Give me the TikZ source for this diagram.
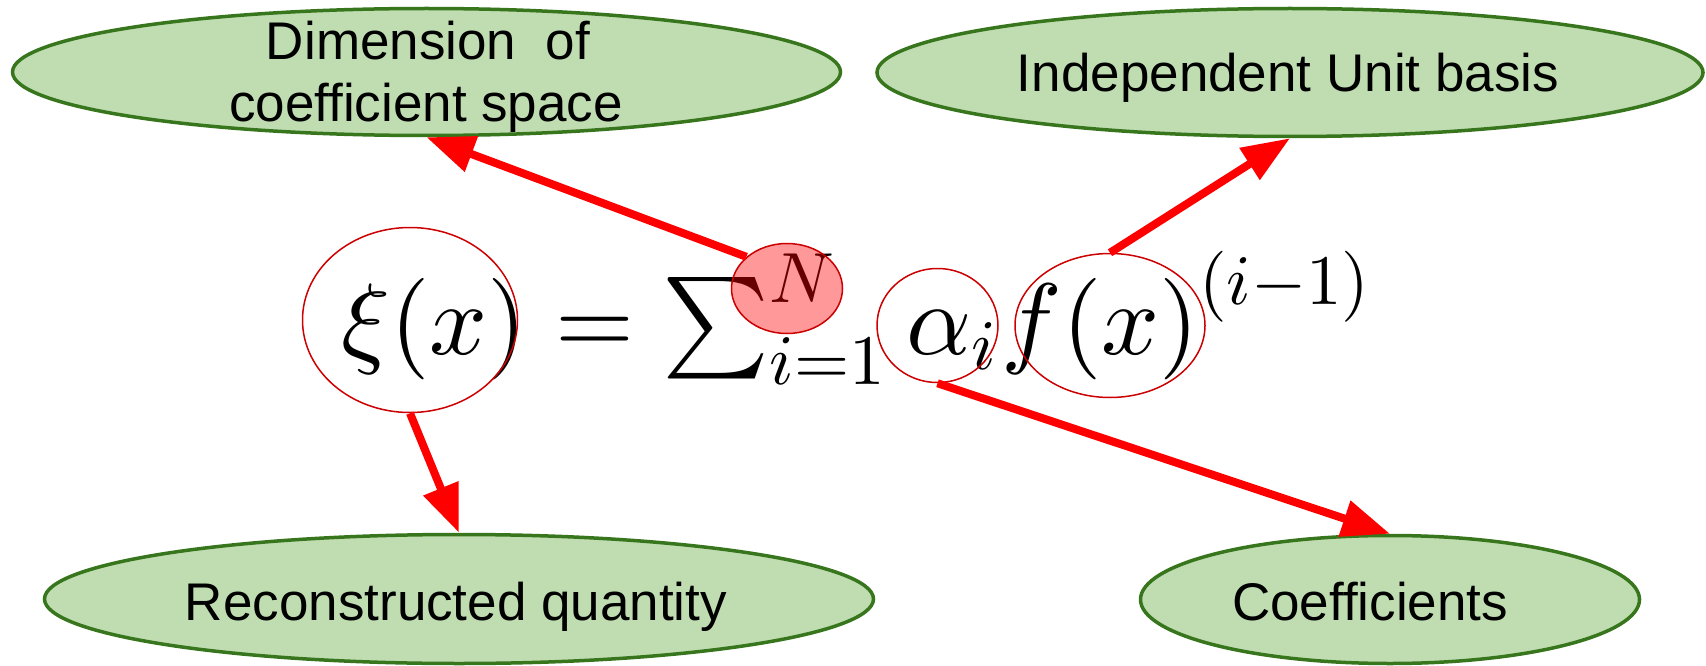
\documentclass[tikz,border=0pt]{standalone}
\usepackage[no-math]{fontspec}
\usepackage{graphicx}
\newfontfamily\arialf{Liberation Sans}
\usetikzlibrary{shapes.geometric,arrows.meta}
\definecolor{gfill}{RGB}{192,221,178}
\definecolor{gdraw}{RGB}{56,118,29}
\definecolor{cred}{RGB}{204,0,0}
\newcommand{\eqsc}[1]{\scalebox{0.7}{$#1$}}
\begin{document}
\begin{tikzpicture}[x=1pt,y=-1pt,
  greenell/.style={ellipse, draw=gdraw, fill=gfill, line width=3.5pt, inner sep=0pt},
  lbl/.style={font=\arialf\fontsize{53}{62}\selectfont, anchor=base, inner sep=0pt},
  redell/.style={ellipse, draw=cred, line width=1.5pt, inner sep=0pt},
  arr/.style={draw=red, line width=8pt, -{Triangle[length=48pt,width=36pt]}}]
\useasboundingbox (0,0) rectangle (1706,666);
% green ellipses
\node[greenell, minimum width=828pt, minimum height=127pt] (dim) at (426.5,72) {};
\node[greenell, minimum width=826pt, minimum height=128pt] (basis) at (1290,72.5) {};
\node[greenell, minimum width=829pt, minimum height=129pt] (recon) at (459,599) {};
\node[greenell, minimum width=499pt, minimum height=128pt] (coef) at (1390,599.5) {};
% labels
\node[lbl] (dimA) at (428,60) {Dimension\ \ of};
\node[lbl] (dimB) at (426,122) {coefficient space};
\node[lbl] (basisT) at (1288,92) {Independent Unit basis};
\node[lbl] (reconT) at (456,620) {Reconstructed quantity};
\node[lbl] (coefT) at (1370,620) {Coefficients};
% equation
\node[anchor=base west, inner sep=0pt] (eq) at (341,354)
  {\scalebox{10.15}{$\xi(x) = \sum_{\eqsc{i{=}1}}^{\eqsc{N}} \alpha_{\eqsc{i}} f(x)^{\raisebox{1.2pt}{\eqsc{(i{-}1)}}}$}};
% red circles
\node[redell, minimum width=215pt, minimum height=185pt] (cxi) at (410,320) {};
\node[redell, fill=red, fill opacity=0.4, minimum width=111pt, minimum height=90pt] (cN) at (787,288.5) {};
\node[redell, minimum width=121pt, minimum height=114pt] (ca) at (937.5,325.5) {};
\node[redell, minimum width=190pt, minimum height=144pt] (cf) at (1110,325.5) {};
% arrows
\draw[arr] (cN.142) -- (dim.south);
\draw[arr] (cf.north) -- (basis.south);
\draw[arr] (cxi.south) -- (recon.north);
\draw[arr] (ca.south) -- (coef.north);
\end{tikzpicture}
\end{document}
